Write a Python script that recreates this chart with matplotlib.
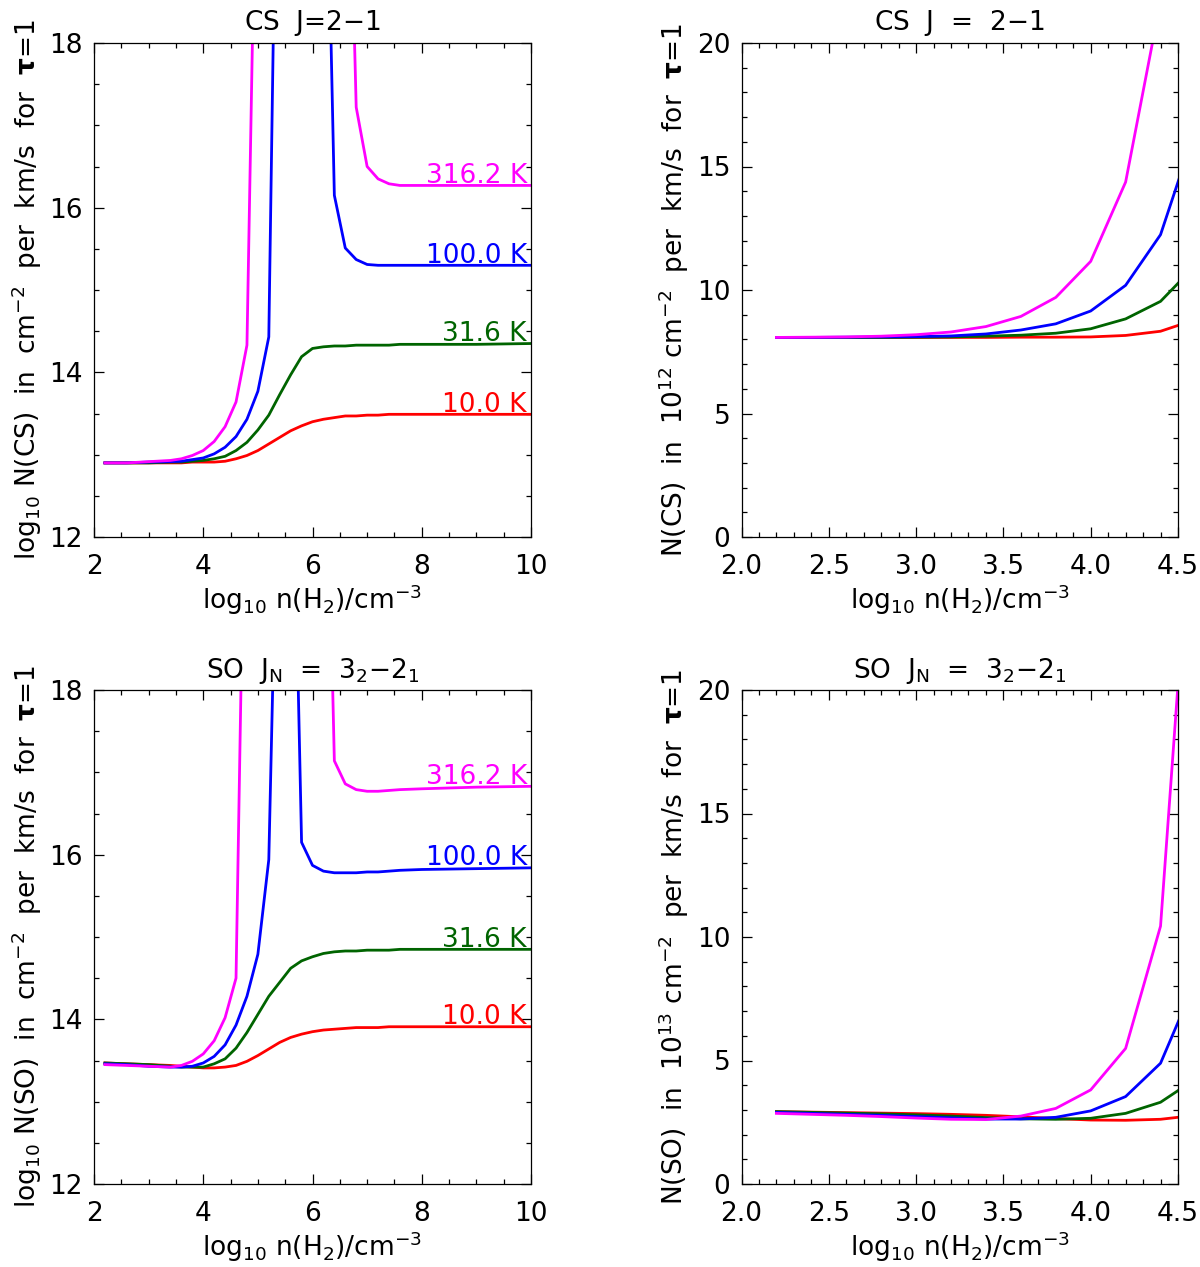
import numpy as np
import matplotlib
matplotlib.use("Agg")
import matplotlib.pyplot as plt
from matplotlib.ticker import MultipleLocator, FormatStrFormatter

plt.rcParams["font.family"] = ["DejaVu Sans"]
plt.rcParams["mathtext.fontset"] = "dejavusans"

NAN = np.nan

# temperatures / colours shared by all panels
temps = ["10.0 K", "31.6 K", "100.0 K", "316.2 K"]
colors = ["#ff0000", "#006400", "#0000ff", "#ff00ff"]

# ---- CS, log panel (top left) ----
x_log = [2.2, 2.6, 3.0, 3.4, 3.6, 3.8, 4.0, 4.2, 4.4, 4.6, 4.8, 5.0, 5.2, 5.4,
         5.6, 5.8, 6.0, 6.2, 6.4, 6.6, 6.8, 7.0, 7.2, 7.4, 7.6, 8.0, 9.0, 10.0]
cs_log_10 = [12.90, 12.90, 12.90, 12.90, 12.90, 12.91, 12.91, 12.91, 12.92, 12.95, 12.99, 13.05, 13.13, 13.21,
             13.29, 13.35, 13.40, 13.43, 13.45, 13.47, 13.47, 13.48, 13.48, 13.49, 13.49, 13.49, 13.49, 13.49]
cs_log_32 = [12.90, 12.90, 12.90, 12.91, 12.91, 12.92, 12.93, 12.95, 12.98, 13.05, 13.15, 13.30, 13.48, 13.73,
             13.97, 14.19, 14.29, 14.31, 14.32, 14.32, 14.33, 14.33, 14.33, 14.33, 14.34, 14.34, 14.34, 14.35]
cs_log_100 = [12.90, 12.90, 12.91, 12.915, 12.92, 12.94, 12.96, 13.01, 13.09, 13.22, 13.43, 13.77, 14.43, 23.3,
              NAN, NAN, NAN, 22.3, 16.15, 15.51, 15.37, 15.31, 15.30, 15.30, 15.30, 15.30, 15.30, 15.30]
cs_log_316 = [12.90, 12.90, 12.915, 12.93, 12.95, 12.99, 13.05, 13.16, 13.34, 13.64, 14.33, 21.7, NAN, NAN,
              NAN, NAN, NAN, NAN, NAN, 22.4, 17.22, 16.50, 16.35, 16.29, 16.27, 16.27, 16.27, 16.27]

# ---- CS, linear panel (top right), units of 1e12 cm^-2 ----
x_lin = [2.2, 2.4, 2.6, 2.8, 3.0, 3.2, 3.4, 3.6, 3.8, 4.0, 4.2, 4.4, 4.6]
cs_lin_10 = [8.08, 8.08, 8.08, 8.08, 8.08, 8.08, 8.08, 8.09, 8.09, 8.10, 8.16, 8.33, 8.80]
cs_lin_32 = [8.08, 8.08, 8.08, 8.08, 8.09, 8.10, 8.13, 8.17, 8.25, 8.43, 8.83, 9.54, 11.0]
cs_lin_100 = [8.08, 8.08, 8.09, 8.10, 8.11, 8.14, 8.22, 8.38, 8.63, 9.15, 10.19, 12.24, 16.5]
cs_lin_316 = [8.08, 8.09, 8.10, 8.13, 8.19, 8.30, 8.52, 8.93, 9.70, 11.16, 14.37, 21.7, 30.0]

# ---- SO, log panel (bottom left) ----
so_log_10 = [13.47, 13.46, 13.45, 13.44, 13.43, 13.42, 13.41, 13.41, 13.42, 13.44, 13.49, 13.56, 13.64, 13.72,
             13.78, 13.82, 13.85, 13.87, 13.88, 13.89, 13.90, 13.90, 13.90, 13.91, 13.91, 13.91, 13.91, 13.91]
so_log_32 = [13.47, 13.46, 13.45, 13.43, 13.42, 13.42, 13.42, 13.46, 13.52, 13.65, 13.84, 14.06, 14.28, 14.45,
             14.62, 14.71, 14.76, 14.80, 14.82, 14.83, 14.83, 14.84, 14.84, 14.84, 14.85, 14.85, 14.85, 14.85]
so_log_100 = [13.46, 13.45, 13.43, 13.42, 13.42, 13.43, 13.47, 13.55, 13.69, 13.93, 14.28, 14.79, 15.94, 21.8,
              22.3, 16.15, 15.87, 15.80, 15.78, 15.78, 15.78, 15.79, 15.79, 15.80, 15.81, 15.82, 15.83, 15.84]
so_log_316 = [13.45, 13.44, 13.43, 13.42, 13.44, 13.49, 13.58, 13.74, 14.02, 14.50, 22.3, NAN, NAN, NAN,
              NAN, NAN, NAN, 22.9, 17.14, 16.86, 16.79, 16.77, 16.77, 16.78, 16.79, 16.80, 16.82, 16.83]

# ---- SO, linear panel (bottom right), units of 1e13 cm^-2 ----
so_lin_10 = [2.93, 2.91, 2.89, 2.87, 2.85, 2.82, 2.78, 2.72, 2.65, 2.59, 2.58, 2.62, 2.78]
so_lin_32 = [2.93, 2.90, 2.87, 2.84, 2.80, 2.75, 2.69, 2.64, 2.62, 2.66, 2.86, 3.31, 4.25]
so_lin_100 = [2.90, 2.86, 2.82, 2.78, 2.73, 2.68, 2.63, 2.63, 2.70, 2.96, 3.54, 4.89, 8.2]
so_lin_316 = [2.86, 2.82, 2.78, 2.73, 2.67, 2.62, 2.61, 2.75, 3.06, 3.81, 5.49, 10.44, 30.0]

FS = 19
xlab = r"log$_{10}$ n(H$_2$)/cm$^{-3}$"
tau = r"$\mathbf{\tau}$=1"

fig = plt.figure(figsize=(12, 12.67), dpi=100)
W, H = 1200, 1267


def make_ax(l, t, r, b):
    return fig.add_axes([l / W, 1 - b / H, (r - l) / W, (b - t) / H])


def style(ax, xmaj, xmin, ymaj, ymin, xfmt):
    ax.xaxis.set_major_locator(MultipleLocator(xmaj))
    ax.xaxis.set_minor_locator(MultipleLocator(xmin))
    ax.yaxis.set_major_locator(MultipleLocator(ymaj))
    ax.yaxis.set_minor_locator(MultipleLocator(ymin))
    ax.xaxis.set_major_formatter(FormatStrFormatter(xfmt))
    ax.yaxis.set_major_formatter(FormatStrFormatter("%d"))
    ax.tick_params(which="both", direction="in", top=True, right=True,
                   labelsize=FS, width=0.9, color="black")
    ax.tick_params(which="major", length=7)
    ax.tick_params(which="minor", length=3.5)
    ax.tick_params(axis="x", pad=12)
    ax.tick_params(axis="y", pad=8)
    for s in ax.spines.values():
        s.set_linewidth(0.9)


def draw(ax, x, series, labels):
    for ys, c, lab in zip(series, colors, temps):
        ax.plot(x, ys, color=c, lw=2.0)
        if labels:
            ax.annotate(lab, xy=(x[-1], ys[-1]), xytext=(-3, 2),
                        textcoords="offset points", ha="right", va="baseline",
                        color=c, fontsize=FS)


def finish(ax, title, ylabel):
    ax.set_title(title, fontsize=FS, pad=9)
    ax.set_xlabel(xlab, fontsize=FS, labelpad=2)
    ax.set_ylabel(ylabel, fontsize=FS, labelpad=4)


# top left
ax = make_ax(94, 43, 531, 537)
draw(ax, x_log, [cs_log_10, cs_log_32, cs_log_100, cs_log_316], True)
ax.set_xlim(2, 10); ax.set_ylim(12, 18)
style(ax, 2, 0.5, 2, 0.5, "%d")
finish(ax, "CS  J=2$-$1",
       r"log$_{10}$ N(CS)  in  cm$^{-2}$  per  km/s  for  " + tau)

# top right
ax = make_ax(741.5, 43, 1178, 537)
draw(ax, x_lin, [cs_lin_10, cs_lin_32, cs_lin_100, cs_lin_316], False)
ax.set_xlim(2.0, 4.5); ax.set_ylim(0, 20)
style(ax, 0.5, 0.1, 5, 1, "%.1f")
finish(ax, "CS  J  =  2$-$1",
       r"N(CS)  in  10$^{12}$ cm$^{-2}$  per  km/s  for  " + tau)

# bottom left
ax = make_ax(94, 690, 531, 1184)
draw(ax, x_log, [so_log_10, so_log_32, so_log_100, so_log_316], True)
ax.set_xlim(2, 10); ax.set_ylim(12, 18)
style(ax, 2, 0.5, 2, 0.5, "%d")
finish(ax, r"SO  J$_\mathrm{N}$  =  3$_2$$-$2$_1$",
       r"log$_{10}$ N(SO)  in  cm$^{-2}$  per  km/s  for  " + tau)

# bottom right
ax = make_ax(741.5, 690, 1178, 1184)
draw(ax, x_lin, [so_lin_10, so_lin_32, so_lin_100, so_lin_316], False)
ax.set_xlim(2.0, 4.5); ax.set_ylim(0, 20)
style(ax, 0.5, 0.1, 5, 1, "%.1f")
finish(ax, r"SO  J$_\mathrm{N}$  =  3$_2$$-$2$_1$",
       r"N(SO)  in  10$^{13}$ cm$^{-2}$  per  km/s  for  " + tau)

fig.savefig("out.png", dpi=100)
